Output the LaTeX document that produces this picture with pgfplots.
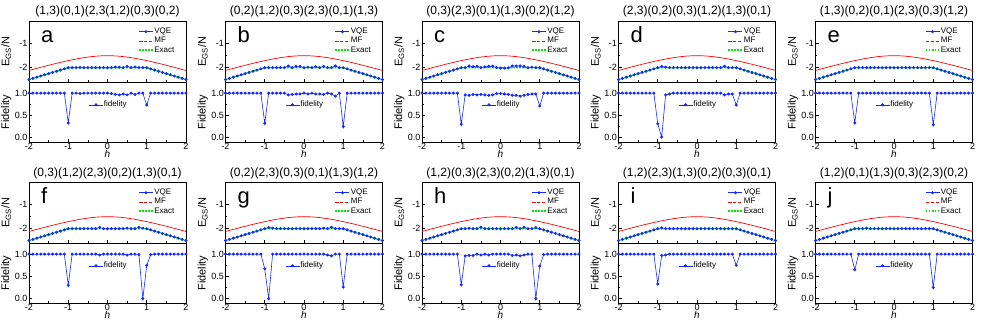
\documentclass[border=0pt]{standalone}
\usepackage{fontspec}
\setmainfont{Liberation Sans}
\usepackage{pgfplots}
\usepackage{pgfplotstable}
\pgfplotsset{compat=1.18}

\definecolor{vqeblue}{RGB}{20,40,255}
\definecolor{mfred}{RGB}{255,0,0}
\definecolor{exgreen}{RGB}{0,235,0}

% mean-field and exact curves (same in every panel)
\pgfplotstableread[row sep=\\]{
h e\\
-2 -2.118\\ -1.75 -2.008\\ -1.5 -1.901\\ -1.25 -1.800\\ -1 -1.707\\ -0.75 -1.625\\ -0.5 -1.559\\ -0.25 -1.515\\
0 -1.500\\ 0.25 -1.515\\ 0.5 -1.559\\ 0.75 -1.625\\ 1 -1.707\\ 1.25 -1.800\\ 1.5 -1.901\\ 1.75 -2.008\\ 2 -2.118\\
}\tMF
\pgfplotstableread[row sep=\\]{
h e\\
-2 -2.5\\ -1 -2\\ 1 -2\\ 2 -2.5\\
}\tEx

% per panel: h, VQE energy, fidelity
\pgfplotstableread[row sep=\\]{
h e f\\
-2.0 -2.50 1\\ -1.9 -2.45 1\\ -1.8 -2.40 1\\ -1.7 -2.35 1\\ -1.6 -2.30 1\\
-1.5 -2.25 1\\ -1.4 -2.20 1\\ -1.3 -2.15 1\\ -1.2 -2.10 1\\ -1.1 -2.05 1\\
-1.0 -2.00 0.33\\ -0.9 -2.00 1\\ -0.8 -2.00 1\\ -0.7 -1.99 0.99\\ -0.6 -2.00 1\\
-0.5 -2.00 1\\ -0.4 -2.00 1\\ -0.3 -2.00 1\\ -0.2 -2.00 1\\ -0.1 -2.00 1\\
0.0 -2.00 1\\ 0.1 -2.00 0.99\\ 0.2 -1.98 0.97\\ 0.3 -1.98 0.96\\ 0.4 -2.00 0.98\\
0.5 -1.95 0.96\\ 0.6 -2.00 1\\ 0.7 -1.97 0.97\\ 0.8 -2.00 1\\ 0.9 -2.00 1\\
1.0 -2.00 0.73\\ 1.1 -2.05 1\\ 1.2 -2.10 1\\ 1.3 -2.15 1\\ 1.4 -2.20 1\\
1.5 -2.25 1\\ 1.6 -2.30 1\\ 1.7 -2.35 1\\ 1.8 -2.40 1\\ 1.9 -2.45 1\\ 2.0 -2.50 1\\
}\tA
\pgfplotstableread[row sep=\\]{
h e f\\
-2.0 -2.50 1\\ -1.9 -2.45 1\\ -1.8 -2.40 1\\ -1.7 -2.35 1\\ -1.6 -2.30 1\\
-1.5 -2.25 1\\ -1.4 -2.20 1\\ -1.3 -2.15 1\\ -1.2 -2.10 1\\ -1.1 -2.05 1\\
-1.0 -2.00 0.32\\ -0.9 -2.00 1\\ -0.8 -2.00 1\\ -0.7 -2.00 1\\ -0.6 -2.00 1\\
-0.5 -2.00 1\\ -0.4 -1.93 0.96\\ -0.3 -2.00 0.97\\ -0.2 -1.95 0.98\\ -0.1 -1.95 0.98\\
0.0 -2.00 1\\ 0.1 -1.98 0.98\\ 0.2 -2.00 1\\ 0.3 -1.96 0.98\\ 0.4 -2.00 0.98\\
0.5 -1.95 0.97\\ 0.6 -2.00 1\\ 0.7 -2.00 0.98\\ 0.8 -1.93 0.93\\ 0.9 -2.00 1\\
1.0 -2.00 0.25\\ 1.1 -2.05 1\\ 1.2 -2.10 1\\ 1.3 -2.15 1\\ 1.4 -2.20 1\\
1.5 -2.25 1\\ 1.6 -2.30 1\\ 1.7 -2.35 1\\ 1.8 -2.40 1\\ 1.9 -2.45 1\\ 2.0 -2.50 1\\
}\tB
\pgfplotstableread[row sep=\\]{
h e f\\
-2.0 -2.50 1\\ -1.9 -2.45 1\\ -1.8 -2.40 1\\ -1.7 -2.35 1\\ -1.6 -2.30 1\\
-1.5 -2.25 1\\ -1.4 -2.20 1\\ -1.3 -2.15 1\\ -1.2 -2.10 1\\ -1.1 -2.05 1\\
-1.0 -2.00 0.30\\ -0.9 -2.00 0.96\\ -0.8 -1.93 0.95\\ -0.7 -1.96 0.97\\ -0.6 -1.94 0.96\\
-0.5 -2.00 0.97\\ -0.4 -1.97 0.96\\ -0.3 -1.94 0.95\\ -0.2 -1.94 0.96\\ -0.1 -2.00 0.99\\
0.0 -2.02 0.99\\ 0.1 -2.02 0.98\\ 0.2 -2.01 0.97\\ 0.3 -1.93 0.95\\ 0.4 -1.93 0.95\\
0.5 -1.93 0.93\\ 0.6 -1.95 0.95\\ 0.7 -2.00 0.97\\ 0.8 -1.98 0.98\\ 0.9 -2.00 0.98\\
1.0 -2.00 0.71\\ 1.1 -2.05 1\\ 1.2 -2.10 1\\ 1.3 -2.15 1\\ 1.4 -2.20 1\\
1.5 -2.25 1\\ 1.6 -2.30 1\\ 1.7 -2.35 1\\ 1.8 -2.40 1\\ 1.9 -2.45 1\\ 2.0 -2.50 1\\
}\tC
\pgfplotstableread[row sep=\\]{
h e f\\
-2.0 -2.50 1\\ -1.9 -2.45 1\\ -1.8 -2.40 1\\ -1.7 -2.35 1\\ -1.6 -2.30 1\\
-1.5 -2.25 1\\ -1.4 -2.20 1\\ -1.3 -2.15 1\\ -1.2 -2.10 1\\ -1.1 -2.05 1\\
-1.0 -2.00 0.31\\ -0.9 -1.95 0.01\\ -0.8 -1.98 0.96\\ -0.7 -2.00 0.98\\ -0.6 -2.00 1\\
-0.5 -2.00 1\\ -0.4 -2.00 1\\ -0.3 -2.00 1\\ -0.2 -2.00 1\\ -0.1 -2.00 1\\
0.0 -2.00 1\\ 0.1 -2.00 1\\ 0.2 -2.00 1\\ 0.3 -2.00 1\\ 0.4 -2.00 1\\
0.5 -2.00 1\\ 0.6 -2.00 1\\ 0.7 -1.94 0.96\\ 0.8 -2.00 0.98\\ 0.9 -2.00 0.98\\
1.0 -2.00 0.73\\ 1.1 -2.05 1\\ 1.2 -2.10 1\\ 1.3 -2.15 1\\ 1.4 -2.20 1\\
1.5 -2.25 1\\ 1.6 -2.30 1\\ 1.7 -2.35 1\\ 1.8 -2.40 1\\ 1.9 -2.45 1\\ 2.0 -2.50 1\\
}\tD
\pgfplotstableread[row sep=\\]{
h e f\\
-2.0 -2.50 1\\ -1.9 -2.45 1\\ -1.8 -2.40 1\\ -1.7 -2.35 1\\ -1.6 -2.30 1\\
-1.5 -2.25 1\\ -1.4 -2.20 1\\ -1.3 -2.15 1\\ -1.2 -2.10 1\\ -1.1 -2.05 1\\
-1.0 -2.00 0.33\\ -0.9 -2.00 1\\ -0.8 -2.00 1\\ -0.7 -2.00 1\\ -0.6 -2.00 1\\
-0.5 -2.00 1\\ -0.4 -2.00 1\\ -0.3 -2.00 1\\ -0.2 -2.00 1\\ -0.1 -2.00 1\\
0.0 -2.00 1\\ 0.1 -2.00 1\\ 0.2 -2.00 1\\ 0.3 -2.00 1\\ 0.4 -2.00 1\\
0.5 -2.00 1\\ 0.6 -2.00 1\\ 0.7 -2.00 1\\ 0.8 -2.00 1\\ 0.9 -2.00 1\\
1.0 -2.00 0.29\\ 1.1 -2.05 1\\ 1.2 -2.10 1\\ 1.3 -2.15 1\\ 1.4 -2.20 1\\
1.5 -2.25 1\\ 1.6 -2.30 1\\ 1.7 -2.35 1\\ 1.8 -2.40 1\\ 1.9 -2.45 1\\ 2.0 -2.50 1\\
}\tE
\pgfplotstableread[row sep=\\]{
h e f\\
-2.0 -2.50 1\\ -1.9 -2.45 1\\ -1.8 -2.40 1\\ -1.7 -2.35 1\\ -1.6 -2.30 1\\
-1.5 -2.25 1\\ -1.4 -2.20 1\\ -1.3 -2.15 1\\ -1.2 -2.10 1\\ -1.1 -2.05 1\\
-1.0 -2.00 0.30\\ -0.9 -2.00 1\\ -0.8 -2.00 1\\ -0.7 -2.00 1\\ -0.6 -2.00 1\\
-0.5 -2.00 1\\ -0.4 -2.00 1\\ -0.3 -2.00 1\\ -0.2 -1.95 0.98\\ -0.1 -2.00 1\\
0.0 -2.00 1\\ 0.1 -2.00 1\\ 0.2 -2.00 1\\ 0.3 -2.00 1\\ 0.4 -2.00 1\\
0.5 -1.98 0.98\\ 0.6 -2.00 1\\ 0.7 -2.00 1\\ 0.8 -1.95 0.99\\ 0.9 -1.98 0.00\\
1.0 -2.00 0.75\\ 1.1 -2.05 0.99\\ 1.2 -2.10 1\\ 1.3 -2.15 1\\ 1.4 -2.20 1\\
1.5 -2.25 1\\ 1.6 -2.30 1\\ 1.7 -2.35 1\\ 1.8 -2.40 1\\ 1.9 -2.45 1\\ 2.0 -2.50 1\\
}\tF
\pgfplotstableread[row sep=\\]{
h e f\\
-2.0 -2.50 1\\ -1.9 -2.45 1\\ -1.8 -2.40 1\\ -1.7 -2.35 1\\ -1.6 -2.30 1\\
-1.5 -2.25 1\\ -1.4 -2.20 1\\ -1.3 -2.15 1\\ -1.2 -2.10 1\\ -1.1 -2.05 1\\
-1.0 -2.00 0.67\\ -0.9 -1.95 0.00\\ -0.8 -1.98 1\\ -0.7 -2.00 1\\ -0.6 -2.00 1\\
-0.5 -2.00 1\\ -0.4 -2.00 1\\ -0.3 -2.00 1\\ -0.2 -2.00 1\\ -0.1 -2.00 1\\
0.0 -2.00 1\\ 0.1 -2.00 1\\ 0.2 -2.00 1\\ 0.3 -2.00 1\\ 0.4 -2.00 1\\
0.5 -1.98 1\\ 0.6 -2.00 0.98\\ 0.7 -1.94 0.96\\ 0.8 -2.00 1\\ 0.9 -2.00 1\\
1.0 -2.00 0.26\\ 1.1 -2.05 1\\ 1.2 -2.10 1\\ 1.3 -2.15 1\\ 1.4 -2.20 1\\
1.5 -2.25 1\\ 1.6 -2.30 1\\ 1.7 -2.35 1\\ 1.8 -2.40 1\\ 1.9 -2.45 1\\ 2.0 -2.50 1\\
}\tG
\pgfplotstableread[row sep=\\]{
h e f\\
-2.0 -2.50 1\\ -1.9 -2.45 1\\ -1.8 -2.40 1\\ -1.7 -2.35 1\\ -1.6 -2.30 1\\
-1.5 -2.25 1\\ -1.4 -2.20 1\\ -1.3 -2.15 1\\ -1.2 -2.10 1\\ -1.1 -2.05 1\\
-1.0 -2.00 0.31\\ -0.9 -2.00 0.96\\ -0.8 -1.98 0.97\\ -0.7 -2.00 0.97\\ -0.6 -2.00 1\\
-0.5 -1.94 0.98\\ -0.4 -2.00 1\\ -0.3 -2.00 0.98\\ -0.2 -2.00 1\\ -0.1 -2.00 1\\
0.0 -2.00 1\\ 0.1 -2.00 1\\ 0.2 -2.00 1\\ 0.3 -2.00 0.97\\ 0.4 -1.95 0.98\\
0.5 -2.00 0.96\\ 0.6 -1.94 0.98\\ 0.7 -2.00 1\\ 0.8 -2.00 1\\ 0.9 -1.96 0.00\\
1.0 -2.00 0.73\\ 1.1 -2.05 0.99\\ 1.2 -2.10 1\\ 1.3 -2.15 1\\ 1.4 -2.20 1\\
1.5 -2.25 1\\ 1.6 -2.30 1\\ 1.7 -2.35 1\\ 1.8 -2.40 1\\ 1.9 -2.45 1\\ 2.0 -2.50 1\\
}\tH
\pgfplotstableread[row sep=\\]{
h e f\\
-2.0 -2.50 1\\ -1.9 -2.45 1\\ -1.8 -2.40 1\\ -1.7 -2.35 1\\ -1.6 -2.30 1\\
-1.5 -2.25 1\\ -1.4 -2.20 1\\ -1.3 -2.15 1\\ -1.2 -2.10 1\\ -1.1 -2.05 1\\
-1.0 -2.00 0.33\\ -0.9 -1.97 0.97\\ -0.8 -2.00 0.98\\ -0.7 -2.00 1\\ -0.6 -2.00 1\\
-0.5 -2.00 1\\ -0.4 -2.00 1\\ -0.3 -2.00 1\\ -0.2 -2.00 1\\ -0.1 -2.00 1\\
0.0 -2.00 1\\ 0.1 -2.00 1\\ 0.2 -2.00 1\\ 0.3 -2.00 1\\ 0.4 -2.00 1\\
0.5 -2.00 1\\ 0.6 -2.00 1\\ 0.7 -2.00 1\\ 0.8 -2.00 1\\ 0.9 -2.00 1\\
1.0 -2.00 0.75\\ 1.1 -2.05 1\\ 1.2 -2.10 1\\ 1.3 -2.15 1\\ 1.4 -2.20 1\\
1.5 -2.25 1\\ 1.6 -2.30 1\\ 1.7 -2.35 1\\ 1.8 -2.40 1\\ 1.9 -2.45 1\\ 2.0 -2.50 1\\
}\tI
\pgfplotstableread[row sep=\\]{
h e f\\
-2.0 -2.50 1\\ -1.9 -2.45 1\\ -1.8 -2.40 1\\ -1.7 -2.35 1\\ -1.6 -2.30 1\\
-1.5 -2.25 1\\ -1.4 -2.20 1\\ -1.3 -2.15 1\\ -1.2 -2.10 1\\ -1.1 -2.05 1\\
-1.0 -2.00 0.65\\ -0.9 -2.00 1\\ -0.8 -2.00 1\\ -0.7 -1.98 1\\ -0.6 -2.00 1\\
-0.5 -2.00 1\\ -0.4 -2.00 1\\ -0.3 -2.00 1\\ -0.2 -2.00 1\\ -0.1 -2.00 1\\
0.0 -2.00 1\\ 0.1 -2.00 1\\ 0.2 -2.00 1\\ 0.3 -2.00 1\\ 0.4 -2.00 1\\
0.5 -2.00 1\\ 0.6 -2.00 1\\ 0.7 -2.00 1\\ 0.8 -2.00 1\\ 0.9 -2.00 1\\
1.0 -2.00 0.25\\ 1.1 -2.05 1\\ 1.2 -2.10 1\\ 1.3 -2.15 1\\ 1.4 -2.20 1\\
1.5 -2.25 1\\ 1.6 -2.30 1\\ 1.7 -2.35 1\\ 1.8 -2.40 1\\ 1.9 -2.45 1\\ 2.0 -2.50 1\\
}\tJ

\pgfplotsset{
  legend image code/.code={\draw[mark repeat=2,mark phase=2,#1] plot coordinates {(0pt,0pt) (7pt,0pt) (14pt,0pt)};},
  panel/.style={
    anchor=north west, scale only axis, width=157pt,
    xmin=-2, xmax=2, xtick={-2,-1,0,1,2}, minor x tick num=1,
    tick align=inside, xtick pos=bottom, ytick pos=left,
    major tick length=3pt, minor tick length=1.6pt,
    tick style={black, line width=0.6pt},
    axis line style={line width=0.8pt},
    tick label style={font=\fontsize{9}{10}\selectfont},
    xticklabel style={inner sep=1pt},
    yticklabel style={inner sep=1.5pt},
    /pgf/number format/assume math mode=true,
    label style={font=\fontsize{11}{12}\selectfont},
    ylabel style={at={(axis description cs:-0.145,0.5)}, anchor=center},
    legend cell align=left,
    legend style={draw=none, fill=none, font=\fontsize{8}{9}\selectfont,
      nodes={inner sep=0.6pt, text height=6pt, text depth=2pt}, row sep=0pt},
  },
  topax/.style={panel, height=61pt, ymin=-2.6, ymax=-0.05,
    ytick={-2,-1}, minor y tick num=1, xticklabels={},
    ylabel={E\textsubscript{GS}/N},
    title style={at={(0.5,1)}, anchor=base, yshift=0pt, inner sep=0pt, font=\fontsize{12}{14}\selectfont},
    legend style={at={(0.95,0.935)}, anchor=north east}},
  botax/.style={panel, height=60pt, ymin=-0.1, ymax=1.25,
    ytick={0,0.5,1}, minor y tick num=1,
    yticklabel style={/pgf/number format/.cd, fixed, fixed zerofill, precision=1},
    xlabel={\textit{h}}, ylabel={Fidelity},
    xlabel style={at={(axis description cs:0.5,0)}, anchor=north, yshift=-8pt, inner sep=0pt, font=\fontsize{10}{11}\selectfont},
    legend style={at={(0.36,0.62)}, anchor=west}},
  vqe/.style={color=vqeblue, line width=0.6pt, mark=*, mark size=1.2pt},
  mf/.style={color=mfred, line width=0.7pt, smooth, legend image post style={dash pattern=on 3pt off 2pt}},
  exact/.style={color=exgreen, line width=1.5pt, dash pattern=on 1.8pt off 1.2pt},
}

% #1 left x, #2 top y (pt), #3 table, #4 letter, #5 title
\newcommand{\panel}[5]{%
\begin{axis}[topax, at={(#1pt,#2pt)}, title={#5}]
  \addplot[vqe] table[x=h,y=e]{#3};
  \addplot[mf] table[x=h,y=e]{\tMF};
  \addplot[exact] table[x=h,y=e]{\tEx};
  \legend{VQE,MF,Exact}
  \node[anchor=base west, font=\fontsize{22}{24}\selectfont] at (rel axis cs:0.055,0.655) {#4};
\end{axis}
\begin{axis}[botax, at={(#1pt,{#2pt-61pt})}]
  \addplot[vqe] table[x=h,y=f]{#3};
  \legend{fidelity}
\end{axis}}

\begin{document}
\begin{tikzpicture}
\path[use as bounding box] (0pt,0pt) rectangle (981pt,327pt);
\panel{29}{306}{\tA}{a}{(1,3)(0,1)(2,3(1,2)(0,3)(0,2)}
\panel{225.5}{306}{\tB}{b}{(0,2)(1,2)(0,3)(2,3)(0,1)(1,3)}
\panel{422}{306}{\tC}{c}{(0,3)(2,3)(0,1)(1,3)(0,2)(1,2)}
\panel{618.5}{306}{\tD}{d}{(2,3)(0,2)(0,3)(1,2)(1,3)(0,1)}
\panel{815.5}{306}{\tE}{e}{(1,3)(0,2)(0,1)(2,3)(0,3)(1,2)}
\panel{29}{145}{\tF}{f}{(0,3)(1,2)(2,3)(0,2)(1,3)(0,1)}
\panel{225.5}{145}{\tG}{g}{(0,2)(2,3)(0,3)(0,1)(1,3)(1,2)}
\panel{422}{145}{\tH}{h}{(1,2)(0,3)(2,3)(0,2)(1,3)(0,1)}
\panel{618.5}{145}{\tI}{i}{(1,2)(2,3)(1,3)(0,2)(0,3)(0,1)}
\panel{815.5}{145}{\tJ}{j}{(1,2)(0,1)(1,3)(0,3)(2,3)(0,2)}
\end{tikzpicture}
\end{document}
